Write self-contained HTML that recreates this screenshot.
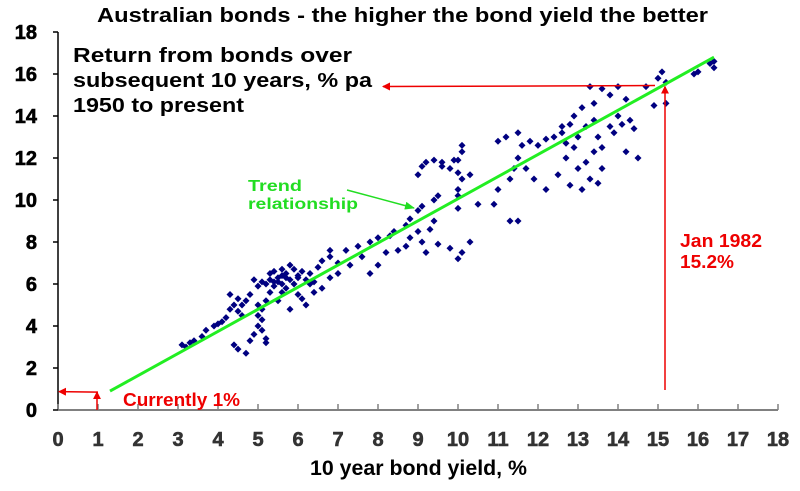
<!DOCTYPE html>
<html><head><meta charset="utf-8"><style>
body{margin:0;background:#fff;}
svg text{font-family:"Liberation Sans",Arial,sans-serif;font-weight:bold;}
</style></head><body>
<svg id="chart" width="800" height="486" xmlns="http://www.w3.org/2000/svg">
<text x="97" y="22" textLength="611" lengthAdjust="spacingAndGlyphs" font-size="20" fill="#000">Australian bonds - the higher the bond yield the better</text>
<g id="axes"></g>
<g id="points"></g>
<g id="overlay"></g>
<text x="310" y="475" textLength="217" lengthAdjust="spacingAndGlyphs" font-size="21" fill="#000">10 year bond yield, %</text>
<g font-size="20" fill="#000">
<text x="73" y="62" textLength="279" lengthAdjust="spacingAndGlyphs">Return from bonds over</text>
<text x="73" y="87" textLength="299" lengthAdjust="spacingAndGlyphs">subsequent 10 years, % pa</text>
<text x="73" y="112" textLength="171" lengthAdjust="spacingAndGlyphs">1950 to present</text>
</g>
<g font-size="16" fill="#22dd22">
<text x="248" y="191" textLength="54" lengthAdjust="spacingAndGlyphs">Trend</text>
<text x="248" y="209" textLength="110" lengthAdjust="spacingAndGlyphs">relationship</text>
</g>
<g font-size="18" fill="#ee0000">
<text x="680" y="247" textLength="82" lengthAdjust="spacingAndGlyphs">Jan 1982</text>
<text x="680" y="268" textLength="54" lengthAdjust="spacingAndGlyphs">15.2%</text>
</g>
<text x="123" y="406" textLength="117" lengthAdjust="spacingAndGlyphs" font-size="18" fill="#ee0000">Currently 1%</text>
</svg>
<script>
const xTicks=[0,1,2,3,4,5,6,7,8,9,10,11,12,13,14,15,16,17,18];
const yTicks=[0,2,4,6,8,10,12,14,16,18];
const yieldX=[3.1,3.2,3.3,3.6,3.7,3.9,4.2,4.3,4.4,4.5,4.6,4.5,4.8,4.4,4.5,4.7,4.8,4.9,5.0,5.1,5.2,5.2,5.0,5.1,5.2,5.3,5.2,5.3,5.5,5.6,5.7,5.8,5.9,6.0,6.1,5.4,5.6,5.7,5.9,6.2,6.3,6.4,6.5,6.6,6.8,5.1,5.0,4.9,5.3,5.4,5.6,5.8,6.0,6.2,6.1,6.4,6.6,6.8,7.0,7.3,7.6,7.2,7.5,7.8,8.0,8.3,8.2,8.5,8.7,8.4,8.8,9.0,9.1,9.3,9.4,9.2,9.5,9.8,10.0,10.1,10.3,8.7,8.8,9.0,9.1,9.5,9.4,9.0,9.1,9.2,9.4,9.6,9.8,10.0,10.1,10.3,10.0,10.1,10.1,9.6,9.9,10.0,10.0,10.0,10.5,10.9,11.3,11.5,11.0,11.3,11.4,11.5,11.7,11.9,11.6,11.5,11.8,12.0,12.2,12.4,12.6,12.7,12.9,13.0,13.2,13.4,13.5,13.6,13.4,13.2,13.0,13.3,13.5,13.6,12.8,13.1,12.2,12.5,12.7,12.9,13.1,13.4,13.3,13.6,13.8,14.0,14.2,14.0,14.1,14.3,14.4,13.8,13.9,14.2,14.5,14.7,15.0,15.1,15.2,14.9,15.2,15.9,16.0,16.4,16.4,16.3,12.6,12.8,11.0,11.2,7.8,8.0,7.0,6.8,4.0,4.3,4.6,4.7,5.5,5.6,5.8,5.1,5.4,5.7,6.0,6.3,5.0,5.5,3.4,4.1];
const returnY=[3.1,3.0,3.2,3.5,3.8,4.0,4.4,4.8,5.0,4.7,4.5,5.3,5.5,3.1,2.9,2.7,3.3,3.6,4.0,3.8,3.4,3.2,4.5,4.8,5.2,5.6,6.0,6.2,6.3,6.4,6.5,6.2,6.0,6.4,6.6,5.9,6.0,5.8,6.7,6.2,6.5,6.1,6.8,7.1,7.3,6.1,5.9,6.2,6.5,6.6,6.7,6.9,5.5,5.0,5.3,5.6,5.8,6.3,6.5,6.9,7.3,7.6,7.8,8.0,8.2,8.3,7.5,7.6,7.8,8.5,8.2,8.5,8.0,8.6,9.0,7.5,7.9,7.7,7.2,7.5,8.0,8.8,9.1,9.5,9.7,10.2,10.0,11.2,11.6,11.8,11.9,11.6,11.5,11.3,11.0,11.2,11.9,12.3,12.6,11.8,11.9,10.2,10.5,9.6,9.8,9.8,9.0,9.0,10.5,11.0,11.5,12.0,11.5,11.0,12.6,13.2,12.8,12.6,12.9,13.0,13.2,12.7,12.5,13.0,13.5,13.8,13.0,12.5,12.3,11.8,11.5,11.0,10.8,11.5,10.7,10.5,10.5,11.2,12.0,14.0,14.4,14.6,15.4,15.3,15.0,15.4,14.8,14.0,13.6,13.8,13.4,13.5,13.2,12.3,12.0,15.4,15.8,16.1,15.6,14.5,14.6,16.0,16.1,16.3,16.6,16.5,13.5,13.6,12.8,13.0,6.5,6.9,7.0,7.6,4.1,5.5,5.0,5.2,5.2,5.6,4.8,4.3,6.1,6.3,6.3,6.0,5.0,6.1,3.3,4.2];
const trendX=[1.3,16.4];
const trendY=[0.9,16.8];
const x0=58,xs=40,y0=410,ys=21;
function sx(v){return x0+v*xs;}
function sy(v){return y0-v*ys;}
const NS="http://www.w3.org/2000/svg";
function mk(tag,attrs,parent){const e=document.createElementNS(NS,tag);for(const k in attrs)e.setAttribute(k,attrs[k]);parent.appendChild(e);return e;}
const axes=document.getElementById('axes');
let a=mk('line',{x1:sx(0),y1:sy(0),x2:sx(18),y2:sy(0),stroke:'#808080','stroke-width':2},axes);


a=mk('line',{x1:sx(0),y1:sy(0),x2:sx(0),y2:sy(18),stroke:'#000','stroke-width':1.5},axes);


xTicks.forEach(t=>{
 mk('line',{x1:sx(t),y1:sy(0),x2:sx(t),y2:sy(0)-6,stroke:'#808080','stroke-width':1.5},axes);
 const tx=mk('text',{x:sx(t),y:446,'text-anchor':'middle','font-size':20,fill:'#333','stroke':'#333','stroke-width':0.6},axes);
 tx.textContent=t;
 
 
});
yTicks.forEach(t=>{
 mk('line',{x1:sx(0)-5,y1:sy(t),x2:sx(0),y2:sy(t),stroke:'#000','stroke-width':1.5},axes);
 const tx=mk('text',{x:37,y:sy(t)+7,'text-anchor':'end','font-size':20,fill:'#000','stroke':'#000','stroke-width':0.6},axes);
 tx.textContent=t;
 
 
});
const pts=document.getElementById('points');
yieldX.forEach((v,i)=>{
 const cx=sx(v),cy=sy(returnY[i]);
 const p=mk('polygon',{points:`${cx},${cy-3.5} ${cx+3.5},${cy} ${cx},${cy+3.5} ${cx-3.5},${cy}`,fill:'#000080'},pts);
 
 
});
const ov=document.getElementById('overlay');
const defs=mk('defs',{},ov);
const mr=mk('marker',{id:'ar',markerWidth:8,markerHeight:8,refX:7,refY:4,orient:'auto',markerUnits:'userSpaceOnUse'},defs);
mk('path',{d:'M0,0 L8,4 L0,8 z',fill:'#ee0000'},mr);
const mg=mk('marker',{id:'ag',markerWidth:10,markerHeight:8,refX:9,refY:4,orient:'auto',markerUnits:'userSpaceOnUse'},defs);
mk('path',{d:'M0,0 L10,4 L0,8 z',fill:'#22dd22'},mg);
let l=mk('line',{x1:sx(trendX[0]),y1:sy(trendY[0]),x2:sx(trendX[1]),y2:sy(trendY[1]),stroke:'#22ee22','stroke-width':3},ov);


l=mk('line',{x1:347,y1:190,x2:414,y2:208,stroke:'#22dd22','stroke-width':1.5,'marker-end':'url(#ag)'},ov);


l=mk('line',{x1:655,y1:sy(15.45),x2:383,y2:sy(15.45)+1,stroke:'#ee0000','stroke-width':1.5,'marker-end':'url(#ar)'},ov);


l=mk('line',{x1:665,y1:sy(0)-20,x2:665,y2:sy(15.4),stroke:'#ee0000','stroke-width':1.5,'marker-end':'url(#ar)'},ov);


l=mk('line',{x1:sx(1),y1:sy(0.85),x2:sx(0)+1,y2:sy(0.85)-0.5,stroke:'#ee0000','stroke-width':1.5,'marker-end':'url(#ar)'},ov);


l=mk('line',{x1:sx(1)-1,y1:sy(0),x2:sx(1)-1,y2:sy(0.85),stroke:'#ee0000','stroke-width':1.5,'marker-end':'url(#ar)'},ov);


</script>
</body></html>
